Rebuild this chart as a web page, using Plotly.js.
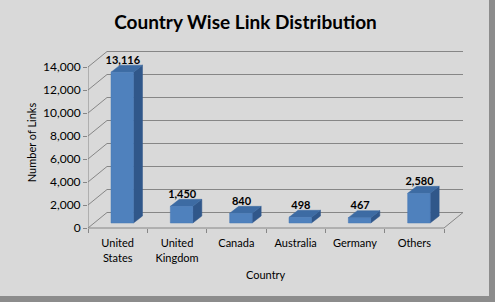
<!DOCTYPE html>
<html>
<head>
<meta charset="utf-8">
<script src="https://cdn.plot.ly/plotly-3.0.1.min.js"></script>
<style>
  html, body { margin: 0; padding: 0; background: #8c8c8c; width: 495px; height: 302px; overflow: hidden; }
  #chart { width: 489px; height: 296px; }
</style>
</head>
<body>
<div id="chart"></div>
<script>
// ---- data ----
const categories = ['United States', 'United Kingdom', 'Canada', 'Australia', 'Germany', 'Others'];
const tickLabels = ['United<br>States', 'United<br>Kingdom', 'Canada', 'Australia', 'Germany', 'Others'];
const links = [13116, 1450, 840, 498, 467, 2580];
const yTickValues = [0, 2000, 4000, 6000, 8000, 10000, 12000, 14000];

// ---- geometry (pixels -> data units) ----
const W = 489, H = 296;
const mL = 88, mR = 19, mT = 45, mB = 56;
const plotW = W - mL - mR, plotH = H - mT - mB;
const CW = 356 / 6;              // px per category
const K = 161 / 14000;           // px per link
const zeroPx = 228;              // front zero line (from top)
const yMin = -((H - mB) - zeroPx) / K;
const yMax = (zeroPx - mT) / K;
const xMax = plotW / CW;

const DX = 19 / CW, DY = 15.5 / K;      // wall depth
const bx0 = 23 / CW, bw = 22.5 / CW;     // bar front left & width
const bb = 5 / K;                        // bar front base
const bdx = 9 / CW, bdy = 7 / K;         // bar depth
const labelGap = 11 / K;

const n = categories.length;
const gridColor = '#868686';

// wall gridlines + floor
const gx = [], gy = [];
yTickValues.forEach(v => {
  gx.push(0, DX, n + DX, null);
  gy.push(v, v + DY, v + DY, null);
});
// floor outline and front axis
gx.push(0, n, n + DX, null, 0, 0, null);
gy.push(0, 0, DY, null, 0, yTickValues[yTickValues.length - 1], null);

const frontX = [], frontY = [], sideX = [], sideY = [], topX = [], topY = [];
const lblX = [], lblY = [], lblT = [];
links.forEach((v, i) => {
  const x0 = i + bx0, x1 = x0 + bw;
  const y0 = bb, y1 = bb + v;
  frontX.push(x0, x1, x1, x0, x0, null);
  frontY.push(y0, y0, y1, y1, y0, null);
  sideX.push(x1, x1 + bdx, x1 + bdx, x1, x1, null);
  sideY.push(y0, y0 + bdy, y1 + bdy, y1, y0, null);
  topX.push(x0, x1, x1 + bdx, x0 + bdx, x0, null);
  topY.push(y1, y1, y1 + bdy, y1 + bdy, y1, null);
  lblX.push(x0 + bw / 2 + 0.01);
  lblY.push(y1 + labelGap);
  lblT.push(v.toLocaleString('en-US'));
});

const traces = [
  { x: gx, y: gy, mode: 'lines', line: { color: gridColor, width: 1 }, hoverinfo: 'skip', connectgaps: false },
  { x: sideX, y: sideY, mode: 'lines', fill: 'toself', fillcolor: '#30578a', line: { color: '#30578a', width: 0.5 }, hoverinfo: 'skip' },
  { x: topX, y: topY, mode: 'lines', fill: 'toself', fillcolor: '#3d6ba3', line: { color: '#3d6ba3', width: 0.5 }, hoverinfo: 'skip' },
  { x: frontX, y: frontY, mode: 'lines', fill: 'toself', fillcolor: '#4f81bd', line: { color: '#4679b6', width: 0.5 }, hoverinfo: 'skip' },
  { x: lblX, y: lblY, mode: 'text', text: lblT, textposition: 'middle center',
    textfont: { family: 'Lato, Carlito, sans-serif', size: 11, color: '#000', weight: 'bold' }, hoverinfo: 'skip', cliponaxis: false }
];

const fontFam = 'Lato, Carlito, sans-serif';
const layout = {
  width: W, height: H,
  margin: { l: mL, r: mR, t: mT, b: mB, pad: 0 },
  paper_bgcolor: '#d9d9d9',
  plot_bgcolor: 'rgba(0,0,0,0)',
  showlegend: false,
  font: { family: fontFam, size: 11, color: '#000' },
  title: {
    text: '<b>Country Wise Link Distribution</b>',
    font: { family: fontFam, size: 19, color: '#000' },
    xref: 'container', x: 245.5 / W, xanchor: 'center',
    yref: 'container', y: 1 - 22 / H, yanchor: 'middle'
  },
  xaxis: {
    type: 'linear', range: [0, xMax], fixedrange: true,
    anchor: 'free', position: ((H - mB) - zeroPx) / plotH,
    showgrid: false, zeroline: false, showline: false,
    tickmode: 'array', tickvals: categories.map((c, i) => i + 0.5), ticktext: tickLabels,
    ticks: 'outside', ticklen: 5, tickcolor: 'rgba(0,0,0,0)',
    tickfont: { family: fontFam, size: 11, color: '#000' },
    minor: { tickmode: 'array', tickvals: categories.map((c, i) => i).concat([n]), ticks: 'outside', ticklen: 4, tickcolor: gridColor, tickwidth: 1, showgrid: false }
  },
  yaxis: {
    type: 'linear', range: [yMin, yMax], fixedrange: true,
    showgrid: false, zeroline: false, showline: false,
    tickmode: 'array', tickvals: yTickValues, tickformat: ',d',
    ticks: 'outside', ticklen: 4, tickcolor: gridColor,
    tickfont: { family: fontFam, size: 12, color: '#000' },
    title: { text: 'Number of Links', font: { family: fontFam, size: 11, color: '#000' }, standoff: 4 }
  },
  annotations: [{
    text: 'Country', xref: 'x', x: n / 2, yref: 'paper', y: -(274 - (H - mB)) / plotH,
    xanchor: 'center', yanchor: 'middle', showarrow: false,
    font: { family: fontFam, size: 11, color: '#000' }
  }]
};

Plotly.newPlot('chart', traces, layout, { displayModeBar: false, staticPlot: true });
</script>
</body>
</html>
